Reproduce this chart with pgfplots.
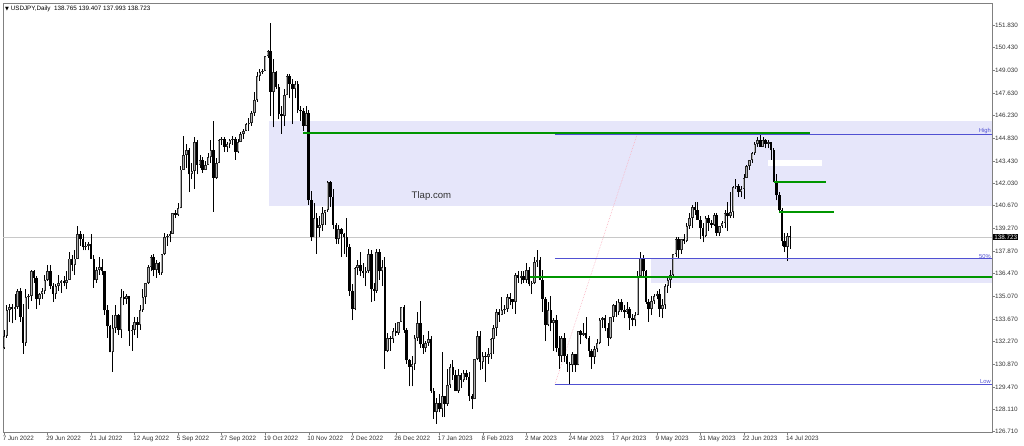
\documentclass[border=0pt]{standalone}
\usepackage{pgfplots}
\pgfplotsset{compat=1.18}
\usepackage{pgfplotstable}
\usepackage{fontspec}
\setmainfont{Liberation Sans}
\newfontfamily\dejavu{DejaVu Sans}

\definecolor{zone}{RGB}{230,230,250}
\definecolor{fibo}{RGB}{80,80,210}
\definecolor{lvl}{RGB}{0,150,0}
\definecolor{pline}{RGB}{200,200,200}
\definecolor{frm}{RGB}{128,128,128}
\definecolor{diag}{RGB}{250,180,195}

% daily USDJPY candles, i = trading day since 7 Jun 2022
\pgfplotstableread{
i o h l c
0 131.90 133.00 131.80 132.60
1 132.60 134.50 132.50 134.20
2 134.20 134.60 133.50 134.40
3 134.40 134.60 133.40 134.30
4 134.30 135.20 133.60 134.40
5 134.40 135.50 134.30 135.40
6 135.40 135.60 133.50 133.80
7 133.80 134.60 131.50 132.20
8 132.20 135.50 132.00 135.00
9 135.00 135.20 134.30 135.10
10 135.10 136.70 134.80 136.60
11 136.60 136.70 135.90 136.20
12 136.20 136.30 134.30 134.90
13 134.90 135.30 134.50 135.20
14 135.20 135.60 134.90 135.40
15 135.40 136.40 135.20 136.10
16 136.10 137.00 136.00 136.60
17 136.60 137.00 135.50 135.70
18 135.70 135.90 134.70 135.20
19 135.20 135.80 134.90 135.70
20 135.70 136.40 135.40 135.90
21 135.90 136.10 135.30 136.00
22 136.00 136.30 135.70 135.90
23 135.90 136.60 135.50 136.10
24 136.10 137.80 136.10 137.40
25 137.40 137.60 136.60 137.00
26 137.00 137.90 136.40 137.40
27 137.40 139.40 137.40 138.90
28 138.90 139.10 138.20 138.60
29 138.60 138.90 137.90 138.10
30 138.10 138.40 137.90 138.20
31 138.20 138.40 137.90 138.30
32 138.30 138.90 137.40 137.40
33 137.40 137.60 135.60 136.10
34 136.10 136.90 135.90 136.70
35 136.70 137.50 136.40 136.90
36 136.90 137.40 136.40 136.60
37 136.60 136.60 133.90 134.20
38 134.20 134.50 132.50 133.20
39 133.20 133.30 131.60 131.60
40 131.60 133.90 130.40 133.10
41 133.10 134.50 132.80 133.90
42 133.90 134.00 132.70 133.00
43 133.00 135.50 132.50 135.00
44 135.00 135.40 134.50 134.90
45 134.90 135.20 134.60 135.10
46 135.10 135.10 132.00 132.90
47 132.90 133.30 131.70 133.00
48 133.00 133.80 132.70 133.50
49 133.50 133.80 132.50 133.30
50 133.30 134.50 133.00 134.20
51 134.20 135.50 134.10 135.00
52 135.00 135.90 134.60 135.90
53 135.90 137.00 135.80 136.90
54 136.90 137.60 136.60 137.50
55 137.50 137.70 136.30 136.70
56 136.70 137.30 136.20 137.10
57 137.10 137.20 136.40 136.50
58 136.50 137.70 136.40 137.70
59 137.70 139.00 137.60 138.70
60 138.70 138.90 138.20 138.80
61 138.80 139.10 138.40 138.90
62 138.90 140.20 138.90 140.20
63 140.20 140.40 139.90 140.10
64 140.10 140.80 140.00 140.50
65 140.50 143.10 140.50 142.90
66 142.90 145.00 142.90 143.80
67 143.80 144.50 143.00 144.10
68 144.10 144.20 141.50 142.60
69 142.60 143.30 142.30 142.80
70 142.80 144.90 141.70 144.60
71 144.60 144.70 142.60 143.20
72 143.20 143.80 143.00 143.50
73 143.50 143.70 142.70 142.90
74 142.90 143.40 142.90 143.20
75 143.20 143.90 143.20 143.70
76 143.70 144.70 143.30 144.10
77 144.10 145.90 140.30 142.40
78 142.40 143.60 142.30 143.30
79 143.30 144.80 143.30 144.70
80 144.70 144.90 144.40 144.80
81 144.80 144.90 144.00 144.30
82 144.30 144.60 144.00 144.50
83 144.50 144.80 144.20 144.70
84 144.70 145.00 144.40 144.80
85 144.80 144.90 143.50 144.00
86 144.00 144.80 143.90 144.60
87 144.60 145.20 144.60 145.10
88 145.10 145.40 144.80 145.30
89 145.30 145.80 145.30 145.70
90 145.70 146.10 145.30 145.80
91 145.80 146.50 145.60 146.40
92 146.40 147.70 146.20 147.20
93 147.20 148.90 147.10 148.70
94 148.70 149.10 148.40 148.90
95 148.90 149.10 148.80 149.00
96 149.00 149.90 149.00 149.90
97 149.90 150.30 149.80 150.20
98 150.20 151.95 146.20 147.70
99 147.70 149.70 145.50 148.90
100 148.90 149.00 147.90 148.00
101 148.00 148.20 146.00 146.30
102 146.30 146.80 145.10 146.20
103 146.20 147.90 145.60 147.50
104 147.50 148.80 147.50 148.70
105 148.70 148.80 147.30 148.20
106 148.20 148.50 145.70 147.90
107 147.90 148.40 147.30 148.20
108 148.20 148.40 146.40 146.60
109 146.60 146.80 145.90 146.50
110 146.50 146.70 145.30 145.60
111 145.60 146.80 145.60 146.40
112 146.40 146.60 140.70 141.00
113 141.00 141.60 138.50 138.70
114 138.70 140.80 138.70 139.90
115 139.90 140.20 137.70 139.30
116 139.30 140.00 138.70 139.50
117 139.50 140.60 139.10 140.20
118 140.20 140.40 139.50 140.40
119 140.40 142.20 140.30 142.10
120 142.10 142.20 140.60 141.20
121 141.20 141.70 139.20 139.50
122 139.50 139.60 138.30 138.60
123 138.60 139.50 138.30 139.20
124 139.20 139.30 137.50 138.90
125 138.90 139.00 137.70 138.70
126 138.70 139.90 137.50 138.10
127 138.10 138.30 135.10 135.40
128 135.40 135.80 133.60 134.30
129 134.30 136.90 134.20 136.80
130 136.80 137.30 136.40 137.00
131 137.00 137.80 136.30 136.60
132 136.60 137.10 136.20 136.50
133 136.50 136.90 135.70 136.60
134 136.60 138.00 136.50 137.70
135 137.70 137.90 134.70 135.50
136 135.50 135.90 134.80 135.40
137 135.40 138.00 135.30 137.80
138 137.80 138.00 136.10 136.60
139 136.60 137.30 135.70 136.90
140 136.90 137.50 130.60 131.70
141 131.70 132.80 131.60 132.50
142 132.50 132.60 131.70 132.40
143 132.40 133.10 132.20 132.90
144 132.90 133.40 132.60 132.80
145 132.80 133.50 132.70 133.50
146 133.50 134.40 133.50 134.40
147 134.40 134.50 132.80 133.00
148 133.00 133.10 130.90 131.10
149 131.10 131.20 129.50 130.70
150 130.70 131.40 129.50 130.90
151 130.90 132.70 130.50 132.50
152 132.50 134.10 132.30 133.40
153 133.40 134.80 131.90 132.10
154 132.10 132.70 131.50 131.90
155 131.90 132.30 131.60 132.20
156 132.20 132.90 132.00 132.40
157 132.40 132.60 129.10 129.20
158 129.20 129.40 127.50 127.90
159 127.90 128.80 127.20 128.50
160 128.50 129.00 127.90 128.10
161 128.10 131.60 127.60 128.90
162 128.90 128.90 127.60 128.40
163 128.40 130.60 128.30 129.60
164 129.60 130.90 129.40 130.70
165 130.70 131.10 129.90 130.20
166 130.20 130.50 129.20 129.20
167 129.20 130.60 129.10 130.20
168 130.20 130.30 129.40 129.90
169 129.90 130.50 129.80 130.30
170 130.30 130.50 129.90 130.10
171 130.10 130.40 128.60 128.90
172 128.90 129.00 128.10 128.70
173 128.70 131.20 128.70 131.20
174 131.20 132.90 131.10 132.60
175 132.60 132.90 130.50 131.00
176 131.00 131.60 130.60 131.40
177 131.40 131.60 129.80 131.30
178 131.30 131.90 130.90 131.50
179 131.50 132.50 131.20 132.40
180 132.40 133.30 131.50 133.10
181 133.10 134.30 132.60 134.10
182 134.10 134.30 133.50 133.90
183 133.90 135.00 133.90 134.20
184 134.20 134.50 134.00 134.30
185 134.30 135.20 134.10 135.00
186 135.00 135.30 134.50 134.90
187 134.90 134.90 134.30 134.70
188 134.70 136.50 134.00 136.40
189 136.40 136.60 135.90 136.20
190 136.20 136.60 135.80 136.30
191 136.30 136.60 135.90 136.10
192 136.10 137.10 135.90 136.70
193 136.70 136.90 135.70 135.80
194 135.80 136.00 135.20 135.90
195 135.90 137.50 135.80 137.20
196 137.20 137.90 136.90 137.30
197 137.30 137.50 136.10 136.10
198 136.10 136.70 134.10 134.90
199 134.90 135.00 132.30 133.30
200 133.30 134.70 133.20 134.20
201 134.20 135.10 132.90 133.40
202 133.40 133.70 131.70 133.60
203 133.60 133.90 131.60 131.90
204 131.90 132.60 130.60 131.40
205 131.40 132.60 131.00 132.50
206 132.50 132.80 131.00 131.40
207 131.40 131.50 130.40 130.90
208 130.90 131.00 129.64 130.80
209 130.80 131.60 130.40 131.50
210 131.50 131.50 130.40 130.80
211 130.80 132.90 130.80 132.90
212 132.90 133.00 132.10 132.70
213 132.70 133.40 132.60 132.80
214 132.80 133.80 132.40 132.50
215 132.50 132.60 131.30 131.70
216 131.70 131.80 130.60 131.30
217 131.30 132.00 130.90 131.80
218 131.80 132.40 131.60 132.20
219 132.20 133.70 132.10 133.60
220 133.60 133.80 133.10 133.70
221 133.70 133.90 132.90 133.10
222 133.10 133.40 132.00 132.50
223 132.50 133.80 132.40 133.80
224 133.80 134.60 133.50 134.50
225 134.50 134.80 133.80 134.10
226 134.10 134.90 133.90 134.70
227 134.70 134.90 134.10 134.20
228 134.20 134.50 133.70 134.10
229 134.10 134.70 134.00 134.30
230 134.30 134.40 133.00 133.70
231 133.70 134.00 133.20 133.60
232 133.60 134.10 133.20 133.90
233 133.90 136.60 133.90 136.30
234 136.30 137.80 136.30 137.40
235 137.40 137.60 136.30 136.60
236 136.60 136.70 134.60 134.70
237 134.70 134.90 133.50 134.30
238 134.30 135.10 133.90 134.80
239 134.80 135.20 134.60 135.10
240 135.10 135.40 134.90 135.20
241 135.20 135.50 133.80 134.30
242 134.30 134.90 133.70 134.50
243 134.50 135.80 134.30 135.70
244 135.70 136.30 135.30 136.10
245 136.10 136.70 135.60 136.40
246 136.40 137.70 136.30 137.70
247 137.70 138.70 137.50 138.60
248 138.60 138.70 137.40 137.90
249 137.90 138.60 137.70 138.60
250 138.60 138.90 138.30 138.50
251 138.50 139.60 138.40 139.40
252 139.40 140.20 139.20 139.90
253 139.90 140.70 139.30 140.60
254 140.60 140.90 140.10 140.40
255 140.40 140.90 139.80 139.80
256 139.80 140.00 138.60 139.30
257 139.30 139.60 138.40 138.80
258 138.80 140.00 138.70 139.90
259 139.90 140.10 139.10 139.60
260 139.60 139.80 139.30 139.50
261 139.50 140.20 139.40 140.10
262 140.10 140.20 138.80 139.00
263 139.00 139.40 138.80 139.40
264 139.40 139.70 139.30 139.60
265 139.60 140.40 139.30 140.20
266 140.20 140.90 139.10 140.00
267 140.00 141.50 139.90 140.30
268 140.30 141.90 139.90 141.80
269 141.80 142.30 141.70 141.90
270 141.90 142.00 141.20 141.50
271 141.50 141.90 141.20 141.70
272 141.70 142.60 141.10 142.40
273 142.40 143.20 142.40 143.10
274 143.10 143.50 142.90 143.50
275 143.50 144.00 143.30 143.90
276 143.90 144.60 143.80 144.50
277 144.50 144.90 144.30 144.70
278 144.70 145.07 144.40 144.30
279 144.30 144.90 144.30 144.70
280 144.70 144.80 144.20 144.50
281 144.50 144.70 144.20 144.60
282 144.60 144.60 143.50 144.10
283 144.10 144.20 142.10 142.20
284 142.20 142.60 141.00 141.30
285 141.30 141.50 140.20 140.40
286 140.40 140.50 138.20 138.50
287 138.50 139.00 137.80 138.10
288 138.10 139.00 137.24 138.80
289 138.765 139.407 137.993 138.723
}\candles

\newcommand{\tickfont}{\fontsize{6.3}{7}\selectfont}

\begin{document}
\begin{tikzpicture}
\begin{axis}[
  name=ax,
  scale only axis, width=989pt, height=429pt,
  xmin=-0.4, xmax=363.2, ymin=126.68, ymax=153.19,
  clip=false,
  axis line style={frm},
  tick style={frm, line width=0.4pt},
  tick align=outside, major tick length=3pt,
  xtick pos=bottom, ytick pos=right, yticklabel pos=right,
  xtick={0,16,...,288},
  xticklabels={7 Jun 2022,29 Jun 2022,21 Jul 2022,12 Aug 2022,5 Sep 2022,27 Sep 2022,19 Oct 2022,10 Nov 2022,2 Dec 2022,26 Dec 2022,17 Jan 2023,8 Feb 2023,2 Mar 2023,24 Mar 2023,17 Apr 2023,9 May 2023,31 May 2023,22 Jun 2023,14 Jul 2023},
  ytick={126.71,128.11,129.47,130.87,132.27,133.67,135.07,136.47,137.87,139.27,140.67,142.03,143.43,144.83,146.23,147.63,149.03,150.43,151.83},
  yticklabels={126.710,128.110,129.470,130.870,132.270,133.670,135.070,136.470,137.870,139.270,140.670,142.030,143.430,144.830,146.230,147.630,149.030,150.430,151.830},
  ticklabel style={font=\tickfont, text=black!80},
  xticklabel style={anchor=north west, inner sep=0pt, xshift=-1.5pt, yshift=-0.5pt},
  yticklabel style={anchor=west, inner sep=0pt},
  level/.style={draw=#1, mark=none, forget plot},
]
% zones
\addplot[draw=none, fill=zone, forget plot] coordinates {(97.4,140.65) (363.2,140.65) (363.2,145.87) (97.4,145.87)} -- cycle;
\addplot[draw=none, fill=zone, forget plot] coordinates {(237.8,135.87) (363.2,135.87) (363.2,137.45) (237.8,137.45)} -- cycle;
\addplot[draw=none, fill=white, forget plot] coordinates {(280.8,143.12) (300.7,143.12) (300.7,143.49) (280.8,143.49)} -- cycle;
% current price line
\addplot[level=pline, line width=0.6pt] coordinates {(-0.4,138.723) (363.2,138.723)};
% fibo diagonal
\addplot[level=diag, densely dotted, line width=0.6pt] coordinates {(202.5,129.62) (232.7,145.06)};

% wicks
\addplot[forget plot, mark=none, draw=black, line width=0.8pt, -,
  quiver={u=0, v=\thisrow{h}-\thisrow{l}}]
  table[x=i, y=l] {\candles};
% bull bodies: dark edge, light core
\addplot[forget plot, mark=none, draw=black!85, line width=2.5pt, -,
  quiver={u=0, v=\thisrow{c}-\thisrow{o}},
  restrict expr to domain={\thisrow{c}-\thisrow{o}}{0:100}]
  table[x=i, y=o] {\candles};
\addplot[forget plot, mark=none, draw=white!70!black, line width=1.0pt, -,
  quiver={u=0, v=\thisrow{c}-\thisrow{o}-0.12},
  restrict expr to domain={\thisrow{c}-\thisrow{o}}{0.13:100}]
  table[x=i, y expr=\thisrow{o}+0.06] {\candles};
% bear bodies
\addplot[forget plot, mark=none, draw=black, line width=2.5pt, -,
  quiver={u=0, v=\thisrow{o}-\thisrow{c}},
  restrict expr to domain={\thisrow{o}-\thisrow{c}}{0.001:100}]
  table[x=i, y=c] {\candles};

% levels (values nudged to whole pixels)
\addplot[level=fibo, line width=1.0pt] coordinates {(202.5,145.064) (363.2,145.064)};
\addplot[level=fibo, line width=1.0pt] coordinates {(202.5,137.371) (363.2,137.371)};
\addplot[level=fibo, line width=1.0pt] coordinates {(202.5,129.616) (363.2,129.616)};
\addplot[level=lvl, line width=2.0pt] coordinates {(109.9,145.157) (296.3,145.157)};
\addplot[level=lvl, line width=1.6pt] coordinates {(193.3,136.259) (363.2,136.259)};
\addplot[level=lvl, line width=1.6pt] coordinates {(283.1,142.129) (302.2,142.129)};
\addplot[level=lvl, line width=1.6pt] coordinates {(284.9,140.275) (305.1,140.275)};

% texts
\node[anchor=south east, inner sep=0.5pt, text=fibo, font=\fontsize{5.8}{6}\selectfont] at (axis cs:363.0,145.064) {High};
\node[anchor=south east, inner sep=0.5pt, text=fibo, font=\fontsize{5.8}{6}\selectfont] at (axis cs:363.0,137.371) {50\%};
\node[anchor=south east, inner sep=0.5pt, text=fibo, font=\fontsize{5.8}{6}\selectfont] at (axis cs:363.0,129.616) {Low};
\node[text=black!80, font=\fontsize{9.6}{11}\selectfont] at (axis cs:157.1,141.27) {Tlap.com};
\node[anchor=west, fill=black, text=white, inner sep=1pt, font=\tickfont] at (axis cs:363.6,138.723) {138.723};
\node[anchor=north west, inner sep=0pt, font=\tickfont] at ([xshift=2pt,yshift=-2.5pt]rel axis cs:0,1)
  {{\dejavu\fontsize{5}{6}\selectfont ▼}\ USDJPY,Daily\ \ 138.765 139.407 137.993 138.723};
\end{axis}
\pgfresetboundingbox
\path ([shift={(-3pt,-14pt)}]ax.south west) rectangle ([shift={(32pt,3pt)}]ax.north east);
\end{tikzpicture}
\end{document}
